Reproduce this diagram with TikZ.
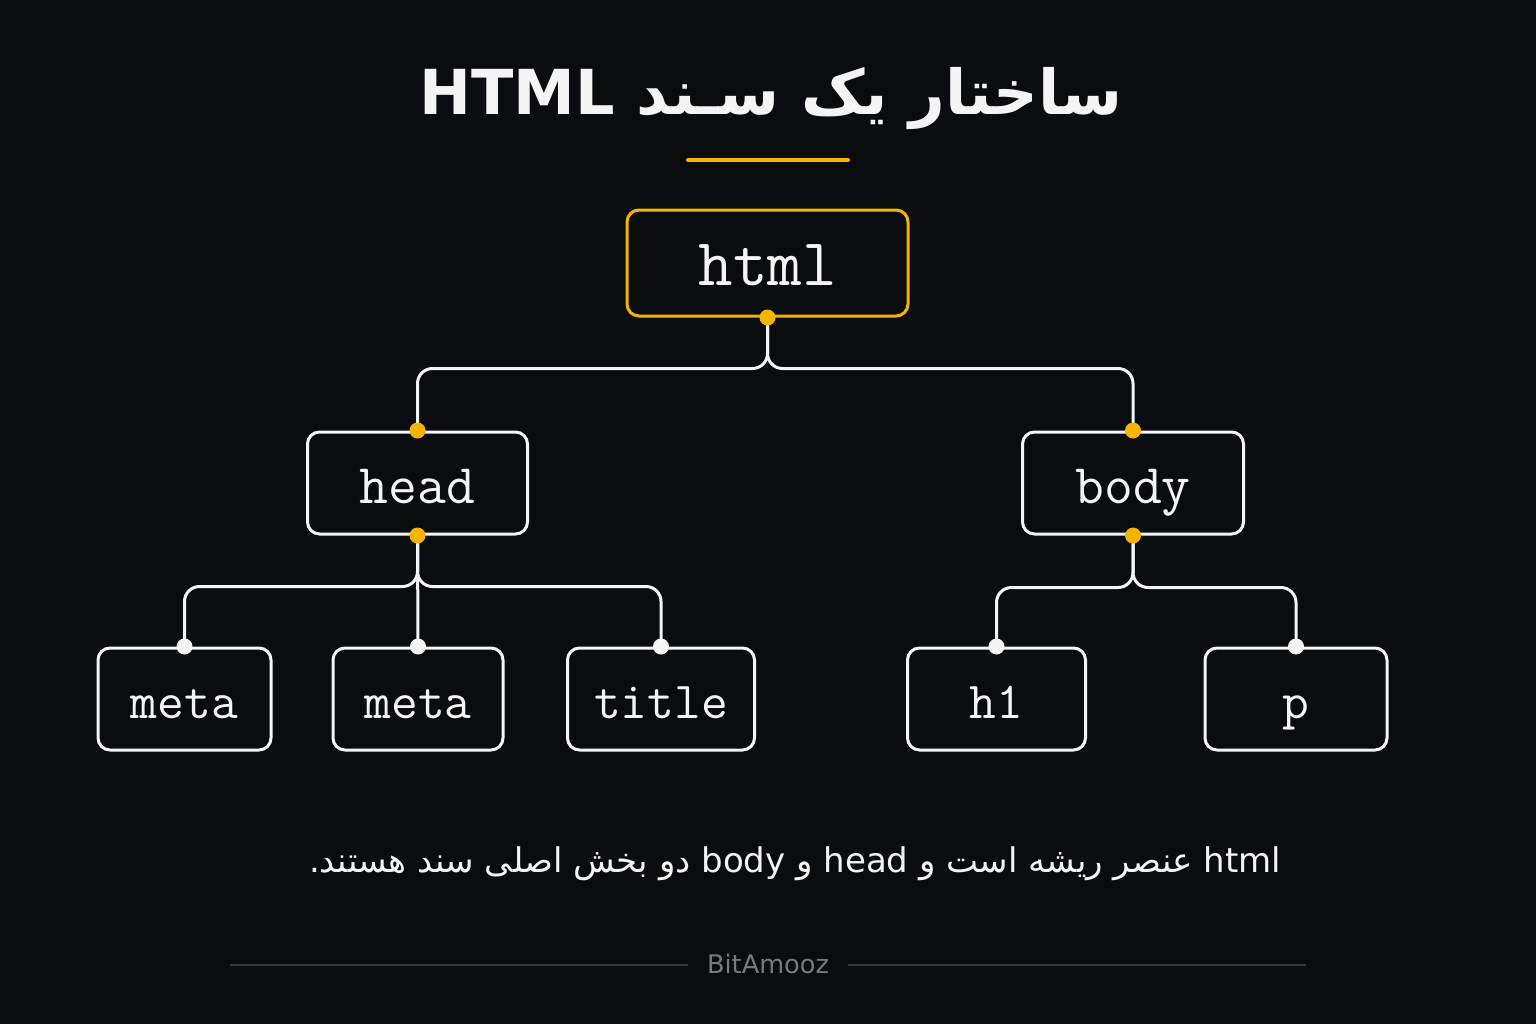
\documentclass[tikz,border=0pt]{standalone}
\usepackage{fontspec}
\TeXXeTstate=1
\newfontfamily\arabicfont[Script=Arabic]{DejaVu Sans}
\newfontfamily\footfont{DejaVu Sans}
\definecolor{bg}{HTML}{0A0C0F}
\definecolor{yel}{HTML}{F5B400}
\definecolor{wht}{HTML}{F4F4F4}
\definecolor{foottext}{HTML}{7A7A7A}
\definecolor{footline}{HTML}{3A3A3A}
\tikzset{
  box/.style={draw=wht, line width=1.5pt, rounded corners=6pt, fill=bg, text=wht,
    inner sep=0pt, minimum height=51pt, font=\ttfamily\fontsize{26}{30}\selectfont, text height=21pt, text depth=2pt},
  midbox/.style={box, font=\ttfamily\fontsize{28}{32}\selectfont, text height=22pt, text depth=2pt},
  rootbox/.style={box, draw=yel, font=\ttfamily\fontsize{33.5}{38}\selectfont, text height=24pt, text depth=2pt},
  conn/.style={draw=wht, line width=1.5pt, rounded corners=7.5pt},
  ydot/.style={fill=yel},
  wdot/.style={fill=wht}
}
\begin{document}
\begin{tikzpicture}[x=0.5pt, y=-0.5pt]
\fill[bg] (0,0) rectangle (1536,1024);
\useasboundingbox (0,0) rectangle (1536,1024);

% title
\node[anchor=base, text=wht, font=\arabicfont\bfseries\fontsize{31}{36}\selectfont] (title) at (771,114)
  {\beginR ساختار یک سـند \beginL HTML\endL\endR};
\draw[yel, line width=2pt, line cap=round] (688,160) -- (848,160);

% nodes
\node[rootbox, minimum width=140.5pt, minimum height=53pt] (html) at (767.5,263) {html};
\node[midbox, minimum width=110pt] (head) at (417.5,483) {head};
\node[midbox, minimum width=110.5pt] (body) at (1133,483) {body};
\node[box, minimum width=86.5pt] (meta1) at (184.5,699) {meta};
\node[box, minimum width=85pt] (meta2) at (418,699) {meta};
\node[box, minimum width=93.5pt] (ttl) at (661,699) {title};
\node[box, minimum width=89pt] (h1) at (996.5,699) {h1};
\node[box, minimum width=91pt] (p) at (1296,699) {p};

% connectors
\draw[conn] (html.south) -- ++(0,51) -| (head.north);
\draw[conn] (html.south) -- ++(0,51) -| (body.north);
\draw[conn] (head.south) -- ++(0,51) -| (meta1.north);
\draw[conn] (head.south) -- (meta2.north);
\draw[conn] (head.south) -- ++(0,51) -| (ttl.north);
\draw[conn] (body.south) -- ++(0,52) -| (h1.north);
\draw[conn] (body.south) -- ++(0,52) -| (p.north);

% dots
\fill[ydot] (html.south) circle (4pt);
\fill[ydot] (head.north) circle (4pt);
\fill[ydot] (body.north) circle (4pt);
\fill[ydot] (head.south) circle (4pt);
\fill[ydot] (body.south) circle (4pt);
\fill[wdot] (meta1.north) circle (4pt);
\fill[wdot] (meta2.north) circle (4pt);
\fill[wdot] (ttl.north) circle (4pt);
\fill[wdot] (h1.north) circle (4pt);
\fill[wdot] (p.north) circle (4pt);

% caption
\node[anchor=base, text=wht, font=\arabicfont\fontsize{17}{21}\selectfont] (caption) at (795,872)
  {\beginR\beginL html\endL{} عنصر ریشه است و \beginL head\endL{} و \beginL body\endL{} دو بخش اصلی سند هستند.\endR};

% footer
\node[anchor=base, text=foottext, font=\footfont\fontsize{12.8}{15}\selectfont, outer sep=6pt] (brand) at (768,973) {BitAmooz};
\coordinate (fl1) at (230,965);
\coordinate (fl2) at (1306,965);
\draw[footline, line width=0.6pt] (fl1) -- (brand.west |- fl1);
\draw[footline, line width=0.6pt] (brand.east |- fl2) -- (fl2);
\end{tikzpicture}
\end{document}
